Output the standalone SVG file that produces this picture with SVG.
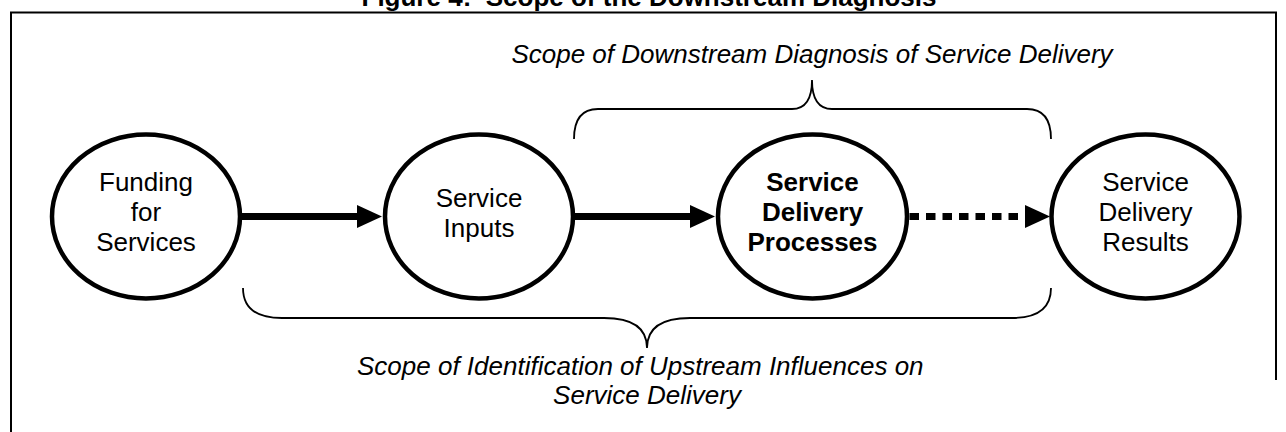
<svg xmlns="http://www.w3.org/2000/svg" width="1286" height="432" viewBox="0 0 1286 432">
  <style>
    text { font-family: "Liberation Sans", Arial, sans-serif; font-size: 26px; fill: #000; }
    .title { font-weight: bold; }
    .node ellipse { fill: #fff; stroke: #000; stroke-width: 4.5; }
    .node text { text-anchor: middle; }
    .bold text { font-weight: bold; }
    .flow { stroke: #000; stroke-width: 7; fill: none; }
    .dotted { stroke-dasharray: 9.5 7; }
    .brace { stroke: #000; stroke-width: 1.8; fill: none; }
    .scope { font-style: italic; }
    .frame { stroke: #000; stroke-width: 2; fill: none; }
  </style>
  <defs>
    <marker id="head" markerUnits="userSpaceOnUse" markerWidth="25" markerHeight="24" refX="0" refY="11.5" orient="auto">
      <path d="M0,0 L25,11.5 L0,23 Z" fill="#000"/>
    </marker>
  </defs>

  <!-- page title and frame -->
  <text class="title" x="649" y="6" text-anchor="middle">Figure 4:&#160; Scope of the Downstream Diagnosis</text>
  <path class="frame" d="M11,432 L11,12.5 L1276,12.5 L1276,380"/>

  <!-- flow connectors -->
  <g id="connectors">
    <line class="flow" x1="242" y1="216.5" x2="357" y2="216.5" marker-end="url(#head)"/>
    <line class="flow" x1="575" y1="216.5" x2="690" y2="216.5" marker-end="url(#head)"/>
    <line class="flow dotted" x1="909.5" y1="216.5" x2="1025" y2="216.5" marker-end="url(#head)"/>
  </g>

  <!-- stages -->
  <g id="funding" class="node">
    <ellipse cx="146" cy="216.5" rx="94" ry="82"/>
    <text x="146" y="191">Funding</text>
    <text x="146" y="221">for</text>
    <text x="146" y="251">Services</text>
  </g>
  <g id="inputs" class="node">
    <ellipse cx="479" cy="216.5" rx="94" ry="82"/>
    <text x="479" y="207">Service</text>
    <text x="479" y="237">Inputs</text>
  </g>
  <g id="processes" class="node bold">
    <ellipse cx="812.5" cy="216.5" rx="94.5" ry="82"/>
    <text x="812.5" y="191">Service</text>
    <text x="812.5" y="221">Delivery</text>
    <text x="812.5" y="251">Processes</text>
  </g>
  <g id="results" class="node">
    <ellipse cx="1145.5" cy="216.5" rx="94" ry="82"/>
    <text x="1145.5" y="191">Service</text>
    <text x="1145.5" y="221">Delivery</text>
    <text x="1145.5" y="251">Results</text>
  </g>

  <!-- downstream scope brace -->
  <g id="downstream-scope">
    <path class="brace" d="M574,139 C574,121 580,109 598,109 L792,109 C806,109 812,98 812,80 C812,98 818,109 832,109 L1027,109 C1045,109 1051,121 1051,139"/>
    <text class="scope" x="812" y="63" text-anchor="middle">Scope of Downstream Diagnosis of Service Delivery</text>
  </g>

  <!-- upstream scope brace -->
  <g id="upstream-scope">
    <path class="brace" d="M243,288 C243,307 254,318 282,318 L604,318 C632,318 647,328 647,348 C647,328 662,318 690,318 L1012,318 C1040,318 1051,307 1051,288"/>
    <text class="scope" x="357" y="375">Scope of Identification of Upstream Influences on</text>
    <text class="scope" x="647" y="404" text-anchor="middle">Service Delivery</text>
  </g>
</svg>
